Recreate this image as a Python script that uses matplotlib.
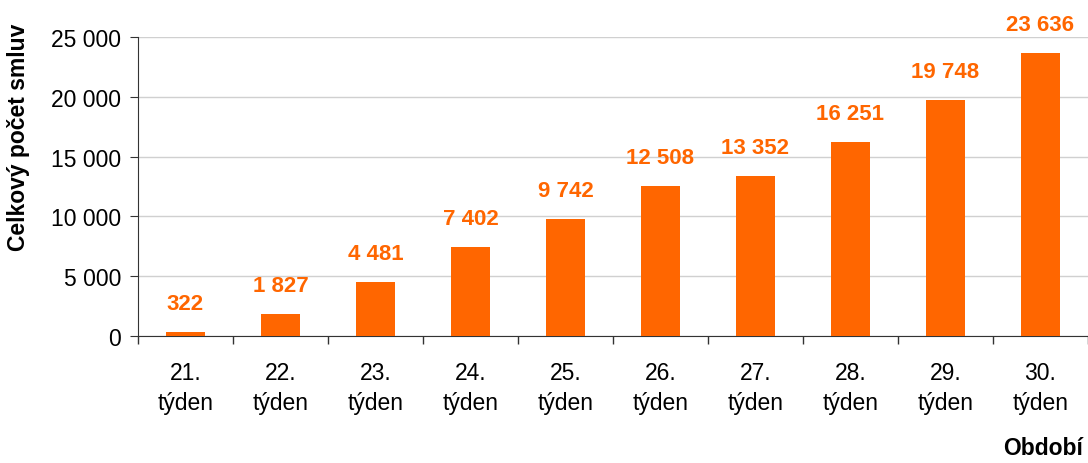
import numpy as np
from matplotlib import pyplot as plt
from matplotlib.ticker import FuncFormatter, FixedLocator

plt.rcParams['font.family'] = ['Liberation Sans', 'DejaVu Sans']

# Data
weeks = ['21.', '22.', '23.', '24.', '25.', '26.', '27.', '28.', '29.', '30.']
contracts = [322, 1827, 4481, 7402, 9742, 12508, 13352, 16251, 19748, 23636]

orange = '#FF6600'

def spaced(v):
    return f'{int(v):,}'.replace(',', ' ')

fig = plt.figure(figsize=(10.88, 4.64), dpi=100)
ax = fig.add_axes([0.1268, 0.2737, 0.8732, 0.6445])

x = np.arange(len(weeks))
ax.bar(x, contracts, width=0.42, color=orange, zorder=3)

for xi, v in zip(x, contracts):
    ax.annotate(spaced(v), (xi, v), xytext=(0, 13), textcoords='offset points',
                ha='center', va='bottom', color=orange, fontsize=16,
                fontweight='bold', annotation_clip=False)

ax.set_xlim(-0.5, len(weeks) - 0.5)
ax.set_ylim(0, 25000)
ax.set_yticks(np.arange(0, 25001, 5000))
ax.yaxis.set_major_formatter(FuncFormatter(lambda v, p: spaced(v)))
ax.grid(axis='y', color='#d0d0d0', linewidth=1, zorder=0)

ax.set_xticks(x)
ax.set_xticklabels([w + '\ntýden' for w in weeks], linespacing=1.4)
ax.xaxis.set_minor_locator(FixedLocator(np.arange(-0.5, len(weeks), 1.0)))
ax.tick_params(axis='x', which='major', length=0, pad=18, labelsize=16.5)
ax.tick_params(axis='x', which='minor', length=6, color='#333333', width=1)
ax.tick_params(axis='y', length=6, color='#333333', labelsize=16.5, pad=6)

for s in ['top', 'right']:
    ax.spines[s].set_visible(False)
for s in ['left', 'bottom']:
    ax.spines[s].set_color('#333333')

ax.set_ylabel('Celkový počet smluv', fontsize=16.5, fontweight='bold')
ax.yaxis.set_label_coords(-0.1137, 0.669)
fig.text(0.995, 0.008, 'Období', ha='right', va='bottom', fontsize=16.5, fontweight='bold')

fig.savefig('out.png', dpi=100)
